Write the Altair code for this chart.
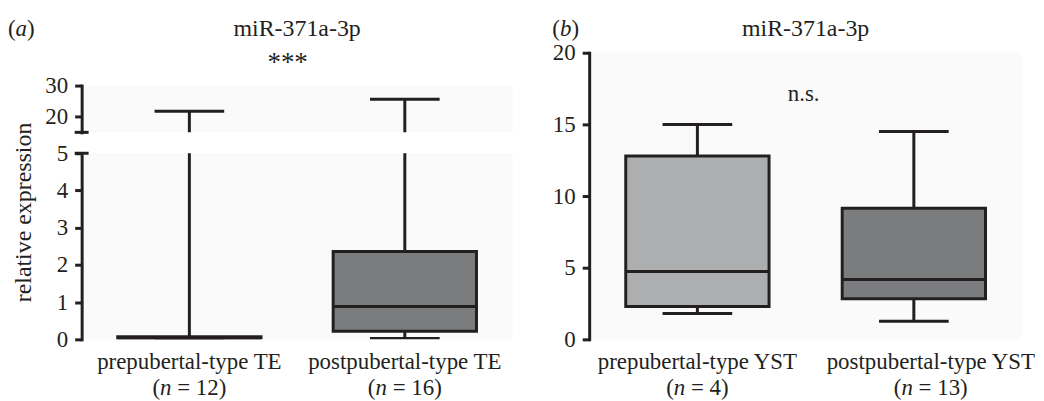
import altair as alt
import pandas as pd

# ---------------- data ----------------
title_text = "miR-371a-3p"
panel_letters = ["a", "b"]

cats_a = ["prepubertal-type TE", "postpubertal-type TE"]
n_a = [12, 16]
min_a = [0.0, 0.02]
q1_a = [0.0, 0.22]
med_a = [0.03, 0.88]
q3_a = [0.07, 2.36]
max_a = [21.8, 25.6]

cats_b = ["prepubertal-type YST", "postpubertal-type YST"]
n_b = [4, 13]
min_b = [1.8, 1.27]
q1_b = [2.3, 2.83]
med_b = [4.74, 4.17]
q3_b = [12.8, 9.14]
max_b = [15.0, 14.5]

ticks_a_top = [20, 30]
ticks_a_bot = [0, 1, 2, 3, 4, 5]
ticks_b = [0, 5, 10, 15, 20]
dom_a_top = [15, 30]
dom_a_bot = [0, 5]
dom_b = [0, 20]
sig_a = "***"
sig_b = "n.s."
y_title = "relative expression"

# ---------------- style ----------------
FONT = "Liberation Serif"
INK = "#231f20"
FS = 23
DARK = "#7b7c7e"
LIGHT = "#adaeb0"
fill_a = [DARK, DARK]
fill_b = [LIGHT, DARK]
BG = "#fafafa"

WA, HA_TOP, HA_BOT, GAP_A, HEAD_A = 433, 47, 187, 21, 51
WB, HB, HEAD_B = 435, 288, 39
BOX_W, CAP_W, LW = 144, 70, 3
label_shift_b = [0, 17]
label_shift_a = [0, 0]
NB = "\u00a0"

# Times / Liberation Serif advance widths (em)
ADV = {"(": 0.333, ")": 0.333, " ": 0.25, NB: 0.25, "=": 0.564, "n": 0.5, "a": 0.5, "b": 0.5}
for d in "0123456789":
    ADV[d] = 0.5


def tw(s):
    return sum(ADV[c] for c in s)


def frame(cats, n, mn, q1, md, q3, mx, fills):
    return pd.DataFrame({"cat": cats, "n": n, "min": mn, "q1": q1, "med": md,
                         "q3": q3, "max": mx, "fill": fills})


df_a = frame(cats_a, n_a, min_a, q1_a, med_a, q3_a, max_a, fill_a)
df_b = frame(cats_b, n_b, min_b, q1_b, med_b, q3_b, max_b, fill_b)
one = pd.DataFrame({"k": [0]})


def y_axis(values):
    return alt.Axis(values=values, grid=False, domainColor=INK, domainWidth=LW,
                    domainCap="square", tickColor=INK, tickWidth=LW, tickSize=7,
                    labelFont=FONT, labelFontSize=FS, labelColor=INK, labelPadding=7,
                    labelOverlap=False)


def x_axis(show):
    if not show:
        return None
    return alt.Axis(labels=False, grid=False, domainColor=INK, domainWidth=2.5,
                    tickColor=INK, tickWidth=LW, tickSize=7)


def box_panel(df, cats, ydom, yticks, width, height, show_x, stub_at=None, extra=()):
    xs = alt.Scale(domain=cats, paddingInner=0, paddingOuter=0)
    ys = alt.Scale(domain=ydom, nice=False, zero=False)
    xa = x_axis(show_x)
    ya = y_axis(yticks)
    X = lambda: alt.X("cat:N", scale=xs, axis=xa, title=None)
    Y = lambda f: alt.Y(f + ":Q", scale=ys, axis=ya, title=None)
    base = alt.Chart(df)
    layers = [
        base.mark_rule(color=INK, strokeWidth=LW, clip=True).encode(x=X(), y=Y("q3"), y2="max:Q"),
        base.mark_rule(color=INK, strokeWidth=LW, clip=True).encode(x=X(), y=Y("min"), y2="q1:Q"),
        base.mark_bar(size=BOX_W, stroke=INK, strokeWidth=LW, clip=True).encode(
            x=X(), y=Y("q1"), y2="q3:Q", fill=alt.Fill("fill:N", scale=None, legend=None)),
        base.mark_tick(size=BOX_W, thickness=LW, color=INK, opacity=1, clip=True).encode(x=X(), y=Y("med")),
        base.mark_tick(size=CAP_W, thickness=LW, color=INK, opacity=1, clip=True).encode(x=X(), y=Y("max")),
        base.mark_tick(size=CAP_W, thickness=LW, color=INK, opacity=1, clip=True).encode(x=X(), y=Y("min")),
    ]
    if stub_at is not None:
        # broken-axis end mark
        layers.append(alt.Chart(pd.DataFrame({"v": [stub_at]})).mark_rule(
            color=INK, strokeWidth=LW).encode(x=alt.value(-7), x2=alt.value(7), y=Y("v")))
    layers += [e(xs) for e in extra]
    return alt.layer(*layers).properties(width=width, height=height,
                                         view=alt.ViewBackground(fill=BG, strokeWidth=0))


def xlabels(cats, ns, shifts, height):
    out = []
    for c, n, s in zip(cats, ns, shifts):
        def f(xs, c=c, n=n, s=s):
            d = pd.DataFrame({"cat": [c]})
            X = alt.X("cat:N", scale=xs, axis=None)
            l1 = alt.Chart(d).mark_text(font=FONT, fontSize=FS, color=INK, align="center",
                                        baseline="alphabetic", dx=s).encode(
                x=X, y=alt.value(height + 30), text="cat:N")
            rest = "=" + NB + "%d)" % n
            W = tw("(n " + rest) * FS
            start = -W / 2 + s
            parts = [("(", 0, "normal"), ("n", tw("(") * FS, "italic"),
                     (rest, tw("(n ") * FS, "normal")]
            ls = []
            for p, o, st in parts:
                ls.append(alt.Chart(d).mark_text(
                    font=FONT, fontSize=FS, color=INK, align="left", baseline="alphabetic",
                    dx=start + o, fontStyle=st).encode(
                    x=X, y=alt.value(height + 56), text=alt.value(p)))
            return alt.layer(l1, *ls)
        out.append(f)
    return out


def header(width, height, letter, letter_x, extra=()):
    layers = [alt.Chart(one).mark_text(font=FONT, fontSize=24, color=INK, align="center",
                                       baseline="alphabetic").encode(
        x=alt.value(width / 2), y=alt.value(22), text=alt.value(title_text))]
    x = letter_x
    for p in ["(", letter, ")"]:
        layers.append(alt.Chart(one).mark_text(
            font=FONT, fontSize=FS, color=INK, align="left", baseline="alphabetic",
            fontStyle="italic" if p == letter else "normal").encode(
            x=alt.value(x), y=alt.value(22), text=alt.value(p)))
        x += tw(p) * FS
    layers += list(extra)
    return alt.layer(*layers).properties(width=width, height=height,
                                         view=alt.ViewBackground(strokeWidth=0))


stars = alt.Chart(one).mark_text(font=FONT, fontSize=27, color=INK, align="center",
                                 baseline="alphabetic").encode(
    x=alt.value(207), y=alt.value(57), text=alt.value(sig_a))

# y-axis title of panel (a), centred on both axis segments
ytitle = alt.Chart(one).mark_text(font=FONT, fontSize=24, color=INK, align="center",
                                  baseline="alphabetic", angle=270).encode(
    x=alt.value(-51), y=alt.value(HEAD_A + GAP_A + (HA_TOP + GAP_A + HA_BOT) / 2),
    text=alt.value(y_title))

head_a = header(WA, HEAD_A, panel_letters[0], -74, [stars, ytitle])
top_a = box_panel(df_a, cats_a, dom_a_top, ticks_a_top, WA, HA_TOP, False,
                  stub_at=dom_a_top[0])
bot_a = box_panel(df_a, cats_a, dom_a_bot, ticks_a_bot, WA, HA_BOT, True,
                  stub_at=dom_a_bot[1],
                  extra=xlabels(cats_a, n_a, label_shift_a, HA_BOT))
panel_a = alt.vconcat(head_a, top_a, bot_a, spacing=GAP_A, bounds="flush")

ns_b = lambda xs: alt.Chart(one).mark_text(font=FONT, fontSize=FS, color=INK, align="center",
                                           baseline="alphabetic").encode(
    x=alt.value(WB / 2 - 2), y=alt.value(48), text=alt.value(sig_b))
head_b = header(WB, HEAD_B, panel_letters[1], -37)
plot_b = box_panel(df_b, cats_b, dom_b, ticks_b, WB, HB, True,
                   extra=[ns_b] + xlabels(cats_b, n_b, label_shift_b, HB))
panel_b = alt.vconcat(head_b, plot_b, spacing=0, bounds="flush")

chart = alt.hconcat(panel_a, panel_b, spacing=40).properties(
    padding={"left": 0, "top": 5, "right": 0, "bottom": 0}
).configure_view(strokeWidth=0)

chart.save("out.html", embed_options={"renderer": "svg", "actions": False})
